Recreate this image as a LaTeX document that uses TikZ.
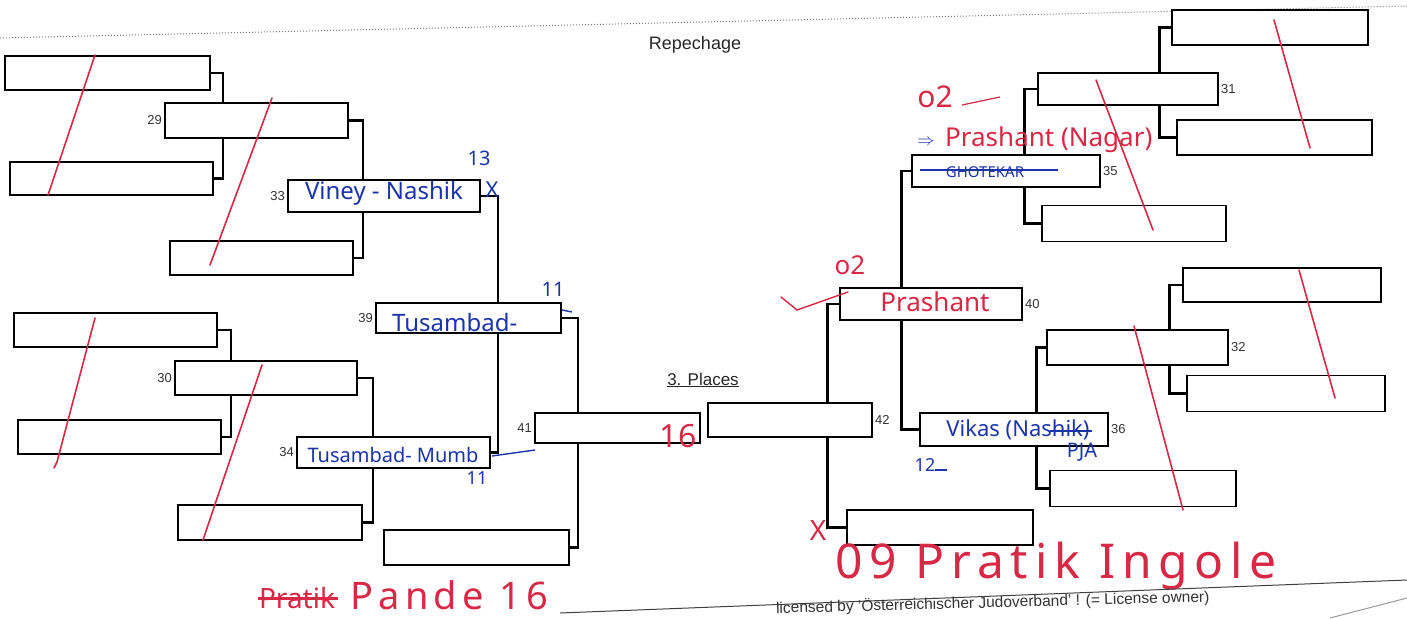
\documentclass[tikz,border=0pt]{standalone}
\usepackage{fontspec}
\setmainfont{Liberation Sans}
\newfontfamily\hand{Noto Sans}
\newfontfamily\handwide{Noto Sans}[LetterSpace=14]
\usetikzlibrary{backgrounds}
\definecolor{ink}{RGB}{28,52,170}
\definecolor{pen}{RGB}{215,40,70}
\definecolor{rule}{RGB}{120,120,120}
\tikzset{
  cell/.style={draw=black, line width=1.8pt, fill=white, inner sep=0pt, minimum width=#1},
  cell/.default=185pt,
  num/.style={font=\fontsize{13}{13}\selectfont, text=black!80, inner sep=2pt},
  conn/.style={draw=black, line width=2.8pt, line join=miter},
  blue hand/.style={font=\hand\fontsize{24}{24}\selectfont, text=ink, inner sep=0pt},
  red hand/.style={font=\hand\fontsize{26}{26}\selectfont, text=pen, inner sep=0pt},
  strike/.style={draw=pen, line width=1.6pt, line cap=round},
}
\begin{document}
\begin{tikzpicture}[x=1pt,y=-1pt]
\useasboundingbox (0,0) rectangle (1407,618);
% header
\draw[rule, line width=1pt, dotted] (0,38) -- (1407,6);
\node[font=\fontsize{18}{18}\selectfont, text=black!85] (rep) at (695,45) {Repechage};
\node[font=\fontsize{17}{17}\selectfont, text=black!85] (pl) at (703,380) {\underline{3. Places}};
% left side boxes
\node[cell=205pt, minimum height=34pt] (L1) at (107.5,73) {};
\node[cell=203pt, minimum height=33pt] (L2) at (111.5,178.5) {};
\node[cell=203pt, minimum height=34pt] (L3) at (115.5,330) {};
\node[cell=203pt, minimum height=34pt] (L4) at (119.5,437) {};
\node[cell=183pt, minimum height=35pt, label={[num]left:29}] (b29) at (256.5,120.5) {};
\node[cell=183pt, minimum height=34pt] (L5) at (261.5,258) {};
\node[cell=182pt, minimum height=34pt, label={[num]left:30}] (b30) at (266,378) {};
\node[cell=184pt, minimum height=35pt] (L6) at (270,522.5) {};
\node[cell=192pt, minimum height=32pt, label={[num]left:33}] (b33) at (384,196) {};
\node[cell=185pt, minimum height=30pt, label={[num]left:39}] (b39) at (468.5,318) {};
\node[cell=193pt, minimum height=31pt, label={[num]left:34}] (b34) at (393.5,452.5) {};
\node[cell=185pt, minimum height=35pt] (L7) at (476.5,547.5) {};
\node[cell=165pt, minimum height=30pt, label={[num]left:41}] (b41) at (617.5,428) {};
% right side boxes
\node[cell=164pt, minimum height=34pt, label={[num]right:42}] (b42) at (790,420) {};
\node[cell=196pt, minimum height=35pt] (R1) at (1270,27.5) {};
\node[cell=180pt, minimum height=32pt, label={[num]right:31}] (b31) at (1128,89) {};
\node[cell=195pt, minimum height=35pt] (R2) at (1274.5,137.5) {};
\node[cell=188pt, minimum height=32pt, label={[num]right:35}] (b35) at (1006,171) {};
\node[cell=184pt, minimum height=36pt] (R3) at (1134,223.5) {};
\node[cell=182pt, minimum height=32pt, label={[num]right:40}] (b40) at (931,304) {};
\node[cell=198pt, minimum height=34pt] (R4) at (1282,285) {};
\node[cell=181pt, minimum height=35pt, label={[num]right:32}] (b32) at (1137.5,347.5) {};
\node[cell=198pt, minimum height=36pt] (R5) at (1286,393.5) {};
\node[cell=188pt, minimum height=33pt, label={[num]right:36}] (b36) at (1014,429.5) {};
\node[cell=186pt, minimum height=36pt] (R6) at (1143,488.5) {};
\node[cell=186pt, minimum height=35pt] (R7) at (940,527.5) {};
% connectors (behind the boxes)
\begin{scope}[on background layer]
\draw[conn] (L1.east) -- ++(12,0) |- (L2.east);
\draw[conn] (L3.east) -- ++(13,0) |- (L4.east);
\draw[conn] (b29.east) -- ++(14,0) |- (L5.east);
\draw[conn] (b30.east) -- ++(15,0) |- (L6.east);
\draw[conn] (b33.east) -- ++(17,0) |- (b34.east);
\draw[conn] (b39.east) -- ++(16,0) |- (L7.east);
\draw[conn] (R1.west) -- ++(-12,0) |- (R2.west);
\draw[conn] (R4.west) -- ++(-13,0) |- (R5.west);
\draw[conn] (b31.west) -- ++(-13,0) |- (R3.west);
\draw[conn] (b32.west) -- ++(-10,0) |- (R6.west);
\draw[conn] (b35.west) -- ++(-10,0) |- (b36.west);
\draw[conn] (b40.west) -- ++(-12,0) |- (R7.west);
\end{scope}
% red strike lines
\draw[strike] (95,55) -- (48,195);
\draw[strike] (272,98) -- (210,265);
\draw[strike] (95,318) -- (57,462) -- (54,468);
\draw[strike] (262,365) -- (203,540);
\draw[strike] (1274,20) -- (1310,148);
\draw[strike] (1096,80) -- (1153,230);
\draw[strike] (1299,270) -- (1335,398);
\draw[strike] (1134,326) -- (1183,510);
% blue handwriting
\node[blue hand] (t33) at (384,193) {Viney - Nashik};
\node[blue hand, anchor=west] (t39) at (392,322) {Tusambad-};
\node[blue hand, font=\hand\fontsize{20}{20}\selectfont] (t34) at (393,455) {Tusambad- Mumb};
\node[blue hand, font=\hand\fontsize{20}{20}\selectfont] (n13) at (479,158) {13};
\node[blue hand, font=\hand\fontsize{22}{22}\selectfont] (x33) at (492,190) {X};
\node[blue hand, font=\hand\fontsize{20}{20}\selectfont] (n11a) at (553,289) {11};
\node[blue hand, font=\hand\fontsize{18}{18}\selectfont] (n11b) at (477,478) {11};
\draw[ink, line width=1.4pt] (492,456) -- (535,450);
\draw[ink, line width=1.4pt] (562,310) -- (572,312);
\node[blue hand, font=\hand\bfseries\fontsize{15}{15}\selectfont] (gh) at (985,172) {GHOTEKAR};
\draw[ink, line width=2pt] (920,170) -- (1058,170);
\node[blue hand, font=\hand\fontsize{18}{18}\selectfont] (arr) at (926,142) {$\Rightarrow$};
\node[blue hand, font=\hand\fontsize{22}{22}\selectfont] (t36) at (1018,430) {Vikas (Nashik)};
\draw[ink, line width=2.5pt] (1050,431) -- (1092,431);
\node[blue hand, font=\hand\fontsize{20}{20}\selectfont] (pja) at (1082,452) {PJA};
\node[blue hand, font=\hand\fontsize{18}{18}\selectfont] (n12) at (925,465) {12};
\draw[ink, line width=1.5pt] (935,470) -- (947,470);
% red handwriting
\node[red hand, anchor=west] (pr1) at (945,140) {Prashant (Nagar)};
\node[red hand, font=\hand\fontsize{30}{30}\selectfont] (o2a) at (935,97) {o2};
\draw[pen, line width=1.2pt] (962,105) -- (1000,97);
\node[red hand, font=\hand\fontsize{26}{26}\selectfont] (o2b) at (850,265) {o2};
\node[red hand] (pr2) at (935,302) {Prashant};
\draw[pen, line width=1.4pt, line cap=round] (781,297) -- (797,310) -- (848,292);
\node[red hand, font=\hand\fontsize{32}{32}\selectfont] (n16) at (678,436) {16};
\node[red hand, font=\hand\fontsize{28}{28}\selectfont] (xr) at (818,530) {X};
\node[red hand, font=\handwide\fontsize{48}{48}\selectfont, anchor=west] (ing) at (835,566) {09 Pratik Ingole};
\node[red hand, font=\hand\fontsize{28}{28}\selectfont] (prt) at (297,598) {Pratik};
\draw[pen, line width=3pt] (258,598) -- (338,598);
\node[red hand, font=\handwide\fontsize{38}{38}\selectfont, anchor=west] (pnd) at (350,595) {Pande 16};
% footer
\draw[black!75, line width=1pt] (560,613) -- (1407,580);
\node[font=\fontsize{15.5}{15.5}\selectfont, text=black!80, anchor=east, rotate=1.5] (foot) at (1213,597) {licensed by 'Österreichischer Judoverband' ! (= License owner)};
\draw[black!40, line width=1pt] (1330,618) -- (1407,598);
\end{tikzpicture}
\end{document}
